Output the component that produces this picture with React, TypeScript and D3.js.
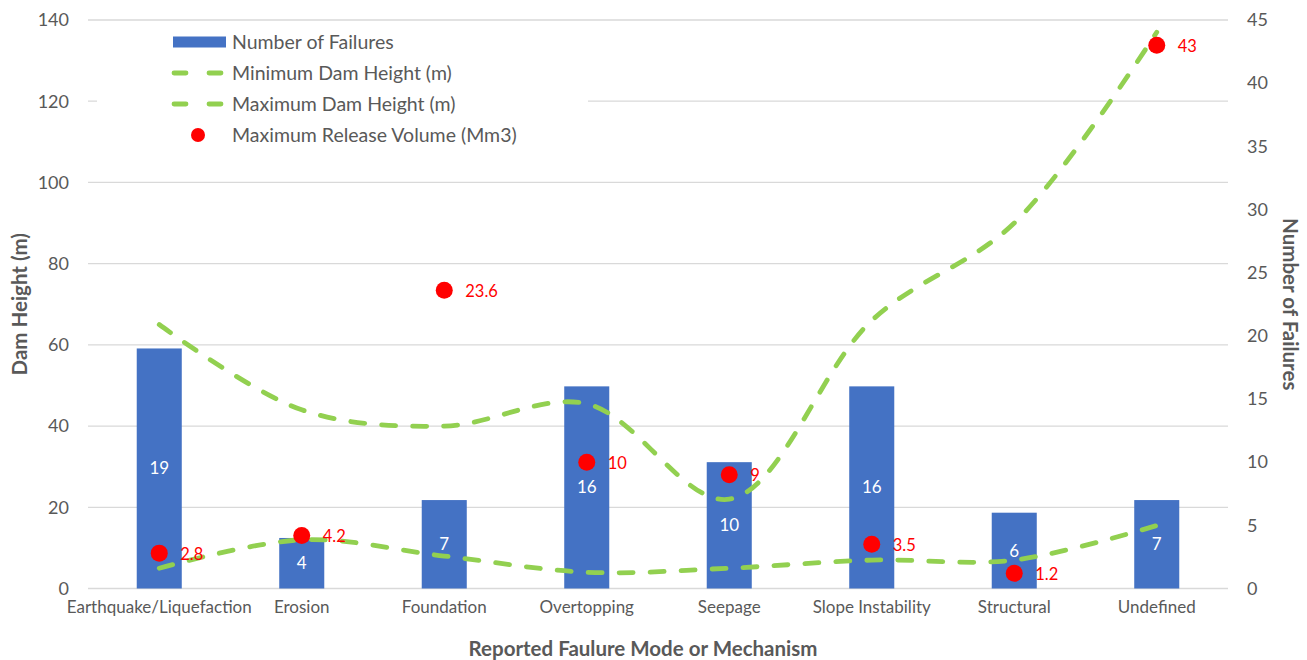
import React from "react";
import * as d3 from "d3";

// Failure modes along the x axis
const categories = [
  "Earthquake/Liquefaction",
  "Erosion",
  "Foundation",
  "Overtopping",
  "Seepage",
  "Slope Instability",
  "Structural",
  "Undefined",
];

// Number of failures per mode (right axis)
const failures = [19, 4, 7, 16, 10, 16, 6, 7];

// Dam heights in metres (left axis)
const minDamHeight = [5, 12, 8, 4, 5, 7, 7, 15.5];
const maxDamHeight = [65, 44, 40, 45.5, 22, 66, 90, 137];

// Maximum release volume, Mm3 (plotted against right axis)
const maxReleaseVolume = [2.8, 4.2, 23.6, 10, 9, 3.5, 1.2, 43];

const leftTicks = [0, 20, 40, 60, 80, 100, 120, 140];
const rightTicks = [0, 5, 10, 15, 20, 25, 30, 35, 40, 45];

const legendItems = [
  { label: "Number of Failures", kind: "bar" },
  { label: "Minimum Dam Height (m)", kind: "line" },
  { label: "Maximum Dam Height (m)", kind: "line" },
  { label: "Maximum Release Volume (Mm3)", kind: "dot" },
];

const W = 1307;
const H = 660;
const plot = { left: 88, right: 1228, top: 20, bottom: 588.5 };

const BLUE = "#4472C4";
const GREEN = "#92D050";
const RED = "#FF0000";
const GREY = "#595959";
const GRID = "#D9D9D9";
const FONT = "Lato, 'Open Sans', sans-serif";

export default function App() {
  const x = d3
    .scaleBand<string>()
    .domain(categories)
    .range([plot.left, plot.right])
    .padding(0);
  const yLeft = d3.scaleLinear().domain([0, 140]).range([plot.bottom, plot.top]);
  const yRight = d3.scaleLinear().domain([0, 45]).range([plot.bottom, plot.top]);

  const cx = (c: string) => (x(c) ?? 0) + x.bandwidth() / 2;
  const barW = x.bandwidth() * 0.316;

  const line = d3
    .line<number>()
    .x((_, i) => cx(categories[i]))
    .y((v) => yLeft(v))
    .curve(d3.curveCatmullRom.alpha(0.5));

  const dash = "14 17";

  return (
    <svg width={W} height={H} style={{ position: "absolute", left: 0, top: 0, background: "#fff" }}>
      <rect x={0} y={0} width={W} height={H} fill="#fff" />
      {/* gridlines */}
      {leftTicks.map((t) => (
        <line
          key={"g" + t}
          x1={plot.left}
          x2={plot.right}
          y1={yLeft(t)}
          y2={yLeft(t)}
          stroke={GRID}
          strokeWidth={1.3}
        />
      ))}

      {/* legend backdrop */}
      <rect x={97} y={26} width={491} height={122} fill="#fff" />

      {/* left tick labels */}
      {leftTicks.map((t) => (
        <text
          key={"l" + t}
          x={69}
          y={yLeft(t)}
          dy="0.35em"
          textAnchor="end"
          fontFamily={FONT}
          fontSize={18}
          fill={GREY}
        >
          {t}
        </text>
      ))}

      {/* right tick labels */}
      {rightTicks.map((t) => (
        <text
          key={"r" + t}
          x={1247}
          y={yRight(t)}
          dy="0.35em"
          textAnchor="start"
          fontFamily={FONT}
          fontSize={18}
          fill={GREY}
        >
          {t}
        </text>
      ))}

      {/* category labels */}
      {categories.map((c) => (
        <text
          key={"c" + c}
          x={cx(c)}
          y={613}
          textAnchor="middle"
          fontFamily={FONT}
          fontSize={17}
          fill={GREY}
        >
          {c}
        </text>
      ))}

      {/* axis titles */}
      <text
        x={643}
        y={656}
        textAnchor="middle"
        fontFamily={FONT}
        fontSize={20.5}
        fontWeight="bold"
        fill={GREY}
      >
        Reported Faulure Mode or Mechanism
      </text>
      <text
        transform={`translate(27, ${(plot.top + plot.bottom) / 2}) rotate(-90)`}
        textAnchor="middle"
        fontFamily={FONT}
        fontSize={20.5}
        fontWeight="bold"
        fill={GREY}
      >
        Dam Height (m)
      </text>
      <text
        transform={`translate(1283, ${(plot.top + plot.bottom) / 2}) rotate(90)`}
        textAnchor="middle"
        fontFamily={FONT}
        fontSize={20.5}
        fontWeight="bold"
        fill={GREY}
      >
        Number of Failures
      </text>

      {/* bars */}
      {categories.map((c, i) => (
        <rect
          key={"b" + c}
          x={cx(c) - barW / 2}
          y={yRight(failures[i])}
          width={barW}
          height={yRight(0) - yRight(failures[i])}
          fill={BLUE}
        />
      ))}
      {categories.map((c, i) => (
        <text
          key={"bl" + c}
          x={cx(c)}
          y={(yRight(failures[i]) + yRight(0)) / 2}
          dy="0.35em"
          textAnchor="middle"
          fontFamily={FONT}
          fontSize={17}
          fill="#fff"
        >
          {failures[i]}
        </text>
      ))}

      {/* dam height lines */}
      <path
        d={line(maxDamHeight) ?? ""}
        fill="none"
        stroke={GREEN}
        strokeWidth={4.8}
        strokeDasharray={dash}
        strokeLinecap="round"
      />
      <path
        d={line(minDamHeight) ?? ""}
        fill="none"
        stroke={GREEN}
        strokeWidth={4.8}
        strokeDasharray={dash}
        strokeLinecap="round"
      />

      {/* release volume dots */}
      {categories.map((c, i) => (
        <g key={"d" + c}>
          <circle cx={cx(c)} cy={yRight(maxReleaseVolume[i])} r={8.5} fill={RED} />
          <text
            x={cx(c) + 21}
            y={yRight(maxReleaseVolume[i])}
            dy="0.4em"
            textAnchor="start"
            fontFamily={FONT}
            fontSize={16.5}
            fill={RED}
          >
            {maxReleaseVolume[i]}
          </text>
        </g>
      ))}

      {/* legend */}
      {legendItems.map((it, i) => {
        const yy = 42 + i * 31;
        return (
          <g key={"lg" + i}>
            {it.kind === "bar" && <rect x={173} y={yy - 5.5} width={53} height={11} fill={BLUE} />}
            {it.kind === "line" && (
              <line
                x1={174}
                x2={221}
                y1={yy}
                y2={yy}
                stroke={GREEN}
                strokeWidth={4.8}
                strokeLinecap="round"
                strokeDasharray="12 23"
              />
            )}
            {it.kind === "dot" && <circle cx={198} cy={yy} r={7} fill={RED} />}
            <text
              x={232}
              y={yy}
              dy="0.35em"
              fontFamily={FONT}
              fontSize={19.5}
              fill={GREY}
            >
              {it.label}
            </text>
          </g>
        );
      })}
    </svg>
  );
}
